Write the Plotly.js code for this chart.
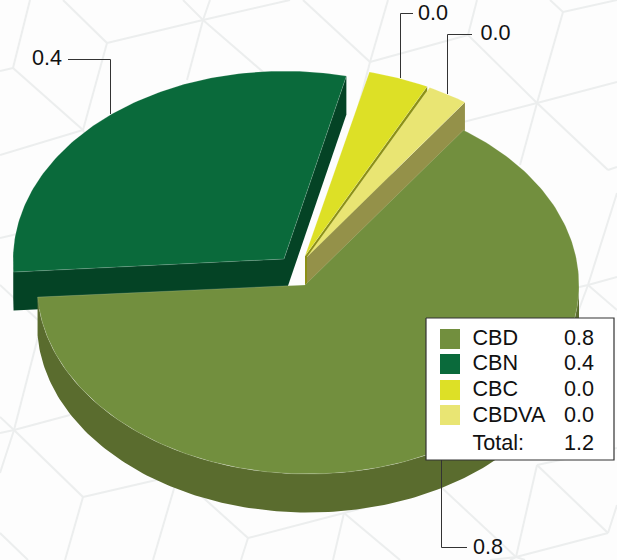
<!DOCTYPE html>
<html>
<head>
<meta charset="utf-8">
<script src="https://cdn.plot.ly/plotly-3.0.1.min.js"></script>
<style>html,body{margin:0;padding:0;background:#fdfdfd}#chart{width:617px;height:560px}</style>
</head>
<body>
<div id="chart"></div>
<script>
// ---- data ----
const categories = ['CBD', 'CBN', 'CBC', 'CBDVA'];
const values = [0.80, 0.37, 0.045, 0.03];
const topColors = ['#728f3e', '#0a6a3b', '#dde026', '#e9e573'];
const wallColors = ['#5a6c2e', '#044325', '#8c9017', '#949149'];

// ---- 3D pie projection ----
const rx = 271, ry = 189, depth = 38.5, startDeg = 35;
const arcCentres = [[308, 285], [284, 260], [307, 256], [309.5, 257]];
const apexes = [[305, 285], [284, 259], [305, 256], [307, 257]];
const total = values.reduce((a, b) => a + b, 0);
let acc = startDeg;
const spans = values.map(v => {
  const s = {from: acc, to: acc + v / total * 360};
  acc = s.to;
  return s;
});
const rad = d => d * Math.PI / 180;
const pt = (c, d, dy = 0) => [c[0] + rx * Math.sin(rad(d)), c[1] - ry * Math.cos(rad(d)) + dy];
function arc(c, a, b, dy = 0) {
  const n = Math.max(2, Math.ceil(Math.abs(b - a)));
  const out = [];
  for (let i = 0; i <= n; i++) out.push(pt(c, a + (b - a) * i / n, dy));
  return out;
}
const traces = [];
function poly(points, fill, stroke) {
  traces.push({
    type: 'scatter', mode: 'lines', hoverinfo: 'skip', fill: 'toself', fillcolor: fill,
    x: points.map(p => p[0]).concat(points[0][0]),
    y: points.map(p => p[1]).concat(points[0][1]),
    line: {color: stroke || fill, width: stroke ? 0.6 : 0}
  });
}
const edge = 'rgba(255,255,255,0.28)';
function wedgeTop(i) {
  const s = spans[i];
  poly([apexes[i]].concat(arc(arcCentres[i], s.from, s.to)), topColors[i], edge);
}
function cutWall(i, deg) {
  const a = apexes[i], e = pt(arcCentres[i], deg);
  poly([a, e, [e[0], e[1] + depth], [a[0], a[1] + depth]], wallColors[i]);
}
function outerWall(i, a, b) {
  const c = arcCentres[i];
  poly(arc(c, a, b).concat(arc(c, b, a, depth)), wallColors[i]);
}

// CBN, behind everything
cutWall(1, spans[1].from);
outerWall(1, spans[1].from, 270);
cutWall(1, spans[1].to);
wedgeTop(1);
// CBC and CBDVA
cutWall(2, spans[2].to);
wedgeTop(2);
cutWall(3, spans[3].to);
wedgeTop(3);
// CBD, in front
outerWall(0, 90, spans[0].to);
wedgeTop(0);

// ---- leader lines and value labels ----
const fmt = v => v.toFixed(1);
const font = {family: '"Liberation Sans", Arial, sans-serif', size: 21.6, color: '#111'};
const leaders = [
  {x: [441.5, 441.5, 467], y: [460, 547.5, 547.5], lx: 473, ly: 548.5, i: 0},
  {x: [110.5, 110.5, 68], y: [114, 59.5, 59.5], lx: 32, ly: 60, i: 1},
  {x: [400.5, 400.5, 413], y: [78, 13.5, 13.5], lx: 418, ly: 14.5, i: 2},
  {x: [447.5, 447.5, 472], y: [94, 34.5, 34.5], lx: 480.5, ly: 35, i: 3}
];
leaders.forEach(l => {
  traces.push({type: 'scatter', mode: 'lines', hoverinfo: 'skip', x: l.x, y: l.y,
    line: {color: '#333', width: 1}});
});
traces.push({type: 'scatter', mode: 'text', hoverinfo: 'skip', textposition: 'middle right',
  x: leaders.map(l => l.lx), y: leaders.map(l => l.ly),
  text: leaders.map(l => fmt(values[l.i])), textfont: font});

// ---- legend ----
traces.push({type: 'scatter', mode: 'lines', hoverinfo: 'skip', fill: 'toself', fillcolor: '#ffffff',
  x: [426, 614, 614, 426, 426], y: [318, 318, 460, 460, 318], line: {color: '#333', width: 1.2}});
const legendY = [339, 364, 390, 415];
traces.push({type: 'scatter', mode: 'markers', hoverinfo: 'skip', x: categories.map(() => 450), y: legendY,
  marker: {symbol: 'square', size: 20, color: topColors, line: {width: 0}}});
const nameCol = categories.concat('Total:');
const valueCol = values.map(fmt).concat(fmt(total));
const rowY = [339.5, 364.5, 390.5, 416.5, 445];
traces.push({type: 'scatter', mode: 'text', hoverinfo: 'skip', textposition: 'middle right',
  x: rowY.map(() => 472.5), y: rowY, text: nameCol, textfont: font});
traces.push({type: 'scatter', mode: 'text', hoverinfo: 'skip', textposition: 'middle right',
  x: rowY.map(() => 564), y: rowY, text: valueCol, textfont: font});

// ---- faint cube pattern behind the chart ----
const bgSegments = [
  [203,20,290,0],[203,20,210,0],[203,20,183,0],[203,20,107,43],[203,20,187,80],[203,20,277,84],
  [107,43,63,0],[107,43,83,130],[30,0,13,68],[13,68,0,71],[13,68,83,130],[83,130,0,155],[83,130,110,190],
  [13,235,0,238],[13,235,83,215],[0,285,13,297],[13,297,38,320],[38,337,14,430],
  [0,417,14,430],[0,433,14,430],[14,430,70,415],[14,430,83,497],[14,430,0,473],
  [83,497,65,560],[83,497,178,475],[178,475,153,560],[178,475,248,538],
  [248,538,344,513],[248,538,241,560],[0,533,28,560],
  [344,513,400,560],[344,513,333,560],[344,513,442,487],
  [441,487,516,557],[516,557,525,560],[516,557,510,560],[516,557,608,533],[516,557,537,465],
  [537,465,617,448],[537,465,608,533],[608,533,617,505],[516,557,490,560],
  [303,0,370,62],[388,0,370,62],[370,62,468,35],[370,62,355,120],
  [477,0,468,35],[468,35,537,103],[537,103,440,128],[537,103,563,12],[537,103,520,165],
  [550,0,563,12],[563,12,617,0],[537,103,617,82],[537,103,608,170],[608,170,617,167],
  [617,193,588,285],[588,285,575,320],[588,285,617,277],[588,285,617,310],[588,285,575,288]
];
const shapes = bgSegments.map(s => ({
  type: 'line', layer: 'below', xref: 'x', yref: 'y', x0: s[0], y0: s[1], x1: s[2], y1: s[3],
  line: {color: '#eceeee', width: 2}
}));

const hiddenAxis = r => ({range: r, visible: false, fixedrange: true, showgrid: false, zeroline: false});
Plotly.newPlot('chart', traces, {
  width: 617, height: 560, showlegend: false,
  margin: {l: 0, r: 0, t: 0, b: 0},
  paper_bgcolor: '#fdfdfd', plot_bgcolor: 'rgba(0,0,0,0)',
  xaxis: hiddenAxis([0, 617]), yaxis: hiddenAxis([560, 0]),
  shapes: shapes, hovermode: false
}, {displayModeBar: false, staticPlot: true});
</script>
</body>
</html>
